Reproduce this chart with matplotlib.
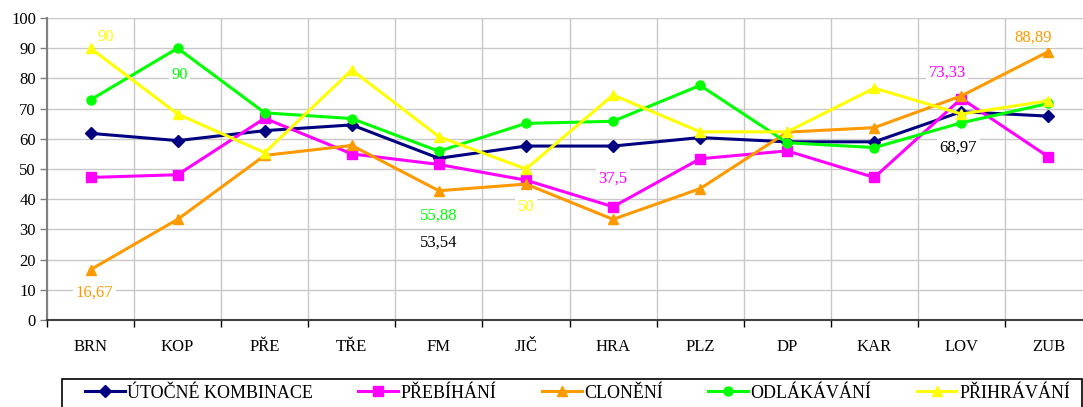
import matplotlib.pyplot as plt
from matplotlib.patches import Rectangle
from matplotlib.ticker import MultipleLocator, FixedLocator

plt.rcParams['font.family'] = ['Liberation Serif', 'DejaVu Serif']

teams = ["BRN", "KOP", "PŘE", "TŘE", "FM", "JIČ", "HRA", "PLZ", "DP", "KAR", "LOV", "ZUB"]

utocne = [61.8, 59.4, 62.7, 64.6, 53.54, 57.6, 57.6, 60.4, 59.0, 59.0, 68.97, 67.5]
prebihani = [47.2, 48.1, 66.8, 55.0, 51.5, 46.3, 37.5, 53.4, 56.0, 47.2, 73.33, 54.0]
cloneni = [16.67, 33.33, 54.5, 57.8, 42.8, 45.0, 33.33, 43.5, 62.2, 63.7, 74.2, 88.89]
odlakavani = [72.9, 90.0, 68.6, 66.7, 55.88, 65.1, 65.8, 77.7, 58.7, 57.1, 65.3, 71.7]
prihravani = [90.0, 68.2, 55.4, 82.8, 60.7, 50.0, 74.5, 62.3, 62.3, 76.8, 68.2, 72.6]

series = [
    ("ÚTOČNÉ KOMBINACE", utocne, "#000080", "D", 6),
    ("PŘEBÍHÁNÍ", prebihani, "#FF00FF", "s", 6.5),
    ("CLONĚNÍ", cloneni, "#FF9900", "^", 7.5),
    ("ODLÁKÁVÁNÍ", odlakavani, "#00FF00", "o", 6.5),
    ("PŘIHRÁVÁNÍ", prihravani, "#FFFF00", "^", 7.5),
]

# data labels: (series index, category index, offset in px)
labels = [
    (4, 0, (15, 11)),
    (3, 1, (2, -27)),
    (2, 0, (4, -23)),
    (3, 4, (0, -64)),
    (0, 4, (0, -84)),
    (4, 5, (0, -38)),
    (1, 6, (0, 28)),
    (1, 10, (-14, 26)),
    (0, 10, (-3, -36)),
    (2, 11, (-15, 14)),
]

W, H = 1083, 407
fig = plt.figure(figsize=(W / 100, H / 100), dpi=100)
ax = fig.add_axes([47 / W, 1 - 320 / H, 1045 / W, 302 / H])

x = list(range(len(teams)))
handles = []
for name, vals, col, mk, ms in series:
    h, = ax.plot(x, vals, color=col, marker=mk, markersize=ms, linewidth=2.2,
                 label=name, zorder=3)
    handles.append(h)

for si, ci, (dx, dy) in labels:
    name, vals, col, mk, ms = series[si]
    tcol = "black" if col == "#000080" else col
    txt = ("%g" % vals[ci]).replace(".", ",")
    ax.annotate(txt, xy=(ci, vals[ci]), xytext=(dx * 0.72, dy * 0.72),
                textcoords="offset points", ha="center", va="center",
                color=tcol, fontsize=12, zorder=5,
                bbox=dict(boxstyle="square,pad=0.15", fc="white", ec="none"))

ax.set_xlim(-0.5, 11.5)
ax.set_ylim(0, 100)
ax.yaxis.set_major_locator(MultipleLocator(10))
ax.set_xticks(x)
ax.set_xticklabels(teams)
ax.xaxis.set_minor_locator(FixedLocator([i - 0.5 for i in range(13)]))
ax.tick_params(axis="x", which="major", length=0, pad=14, labelsize=12)
ax.tick_params(axis="x", which="minor", length=5, width=1, color="black")
ax.tick_params(axis="y", length=5, width=1, color="#808080", labelsize=12, pad=3)
ax.grid(axis="y", which="major", color="#c8c8c8", linewidth=1)
ax.grid(axis="x", which="minor", color="#c8c8c8", linewidth=1)
ax.set_axisbelow(True)
for s in ["top", "right"]:
    ax.spines[s].set_visible(False)
ax.spines["left"].set_color("#808080")
ax.spines["left"].set_linewidth(1.5)
ax.spines["bottom"].set_color("#404040")
ax.spines["bottom"].set_linewidth(1.5)

# legend frame (bottom runs off the picture like in the original)
fig.patches.append(Rectangle((62 / W, -0.05), (1082 - 62) / W, 0.05 + 1 - 379 / H,
                             transform=fig.transFigure, fill=False,
                             edgecolor="black", linewidth=1.2))
leg = fig.legend(handles=handles, loc="center left", ncol=5,
                 bbox_to_anchor=(85 / W, 1 - 393 / H),
                 fontsize=13, frameon=False, handlelength=2.2,
                 handletextpad=0.15, columnspacing=2.5, borderpad=0,
                 borderaxespad=0)

fig.savefig("out.png", dpi=100)
